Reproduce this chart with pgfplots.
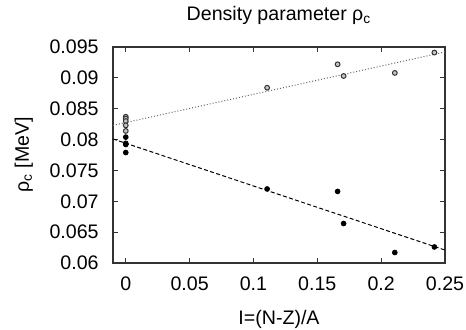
\documentclass[border=0pt]{standalone}
\usepackage{fontspec}
\setmainfont{Liberation Sans}
\usepackage{pgfplots}
\pgfplotsset{compat=1.18}
\begin{document}
\fontsize{9.8}{11.5}\selectfont
\begin{tikzpicture}
\useasboundingbox (-56.5pt,-33pt) rectangle (176.5pt,131.5pt);
\begin{axis}[
  at={(0,0)}, anchor=south west,
  scale only axis,
  width=166pt, height=108pt,
  xmin=-0.01, xmax=0.25, ymin=0.06, ymax=0.095,
  xtick={0,0.05,...,0.25}, ytick={0.06,0.065,...,0.095},
  xticklabels={0,0.05,0.1,0.15,0.2,0.25},
  yticklabels={0.06,0.065,0.07,0.075,0.08,0.085,0.09,0.095},
  scaled y ticks=false, scaled x ticks=false,
  /pgf/number format/assume math mode=true,
  tick align=inside, tick pos=both,
  major tick length=2.5pt,
  minor tick num=0,
  axis line style={line width=0.6pt, black!80},
  tick style={black!80, line width=0.5pt},
  yticklabel style={inner sep=0pt, anchor=east, xshift=-7pt},
  xticklabel style={inner sep=0pt, anchor=base, yshift=-13.5pt},
  title={Density parameter ρ\textsubscript{c}},
  every axis title/.style={at={(axis description cs:0.5,1)}, yshift=13.5pt, anchor=base, inner sep=0pt},
  xlabel={I=(N-Z)/A},
  every axis x label/.style={at={(axis description cs:0.5,0)}, yshift=-30.5pt, anchor=base, inner sep=0pt},
  ylabel={ρ\textsubscript{c} [MeV]},
  every axis y label/.style={at={(axis description cs:0,0.5)}, xshift=-42pt, rotate=90, anchor=base, inner sep=0pt},
  font=\fontsize{9.8}{11.5}\selectfont,
  clip=true,
]
\addplot[densely dotted, black!60, line width=0.5pt] coordinates {(-0.01,0.0823) (0.25,0.0942)};
\addplot[dashed, dash pattern=on 2pt off 1.2pt, black, line width=0.5pt] coordinates {(-0.01,0.0801) (0.25,0.0621)};
\addplot[only marks, mark=*, mark size=1.2pt, mark options={draw=black!80, fill=gray!45, line width=0.5pt}] coordinates {
(0,0.0837) (0,0.0834) (0,0.0830) (0,0.0823) (0,0.0814)
(0.1107,0.0884) (0.1659,0.0922) (0.1706,0.0903) (0.2107,0.0908) (0.2417,0.0941)
};
\addplot[only marks, mark=*, mark size=1.2pt, black] coordinates {
(0,0.0804) (0,0.0794) (0,0.0792) (0,0.0779)
(0.1107,0.0720) (0.1659,0.0716) (0.1706,0.0664) (0.2107,0.0617) (0.2417,0.0626)
};
\end{axis}
\end{tikzpicture}
\end{document}
